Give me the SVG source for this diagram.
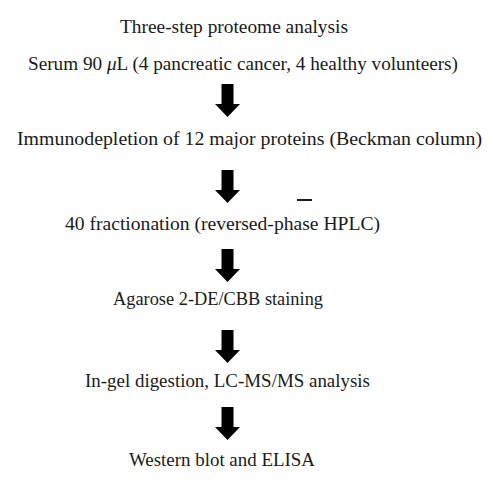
<svg xmlns="http://www.w3.org/2000/svg" xmlns:xlink="http://www.w3.org/1999/xlink" width="500" height="488" viewBox="0 0 500 488">
<style>
text{font-family:"Liberation Serif","DejaVu Serif",serif;font-size:19px;fill:#1a1a1a;}
.arr{fill:#000;}
</style>
<defs>
<path id="arrow" class="arr" d="M-6,0 H6 V20 H12.5 L0,33 L-12.5,20 H-6 Z"/>
</defs>
<rect width="500" height="488" fill="#fff"/>
<g id="title"><text x="120" y="33" textLength="228" lengthAdjust="spacingAndGlyphs">Three-step proteome analysis</text></g>
<g id="n1"><text x="28" y="70" textLength="430" lengthAdjust="spacingAndGlyphs">Serum 90 <tspan font-style="italic">μ</tspan>L (4 pancreatic cancer, 4 healthy volunteers)</text></g>
<g id="n2"><text x="17" y="145" textLength="465" lengthAdjust="spacingAndGlyphs">Immunodepletion of 12 major proteins (Beckman column)</text></g>
<g id="n3"><text x="65" y="230" textLength="315" lengthAdjust="spacingAndGlyphs">40 fractionation (reversed-phase HPLC)</text>
<rect x="297" y="199" width="15" height="2" fill="#1a1a1a"/></g>
<g id="n4"><text x="113" y="305" textLength="210" lengthAdjust="spacingAndGlyphs">Agarose 2-DE/CBB staining</text></g>
<g id="n5"><text x="85" y="387" textLength="285" lengthAdjust="spacingAndGlyphs">In-gel digestion, LC-MS/MS analysis</text></g>
<g id="n6"><text x="129" y="466" textLength="186" lengthAdjust="spacingAndGlyphs">Western blot and ELISA</text></g>
<g id="connectors">
<use xlink:href="#arrow" transform="translate(227.5,84)"/>
<use xlink:href="#arrow" transform="translate(227.5,170)"/>
<use xlink:href="#arrow" transform="translate(227.5,249)"/>
<use xlink:href="#arrow" transform="translate(227.5,330)"/>
<use xlink:href="#arrow" transform="translate(227.5,407)"/>
</g>
</svg>
